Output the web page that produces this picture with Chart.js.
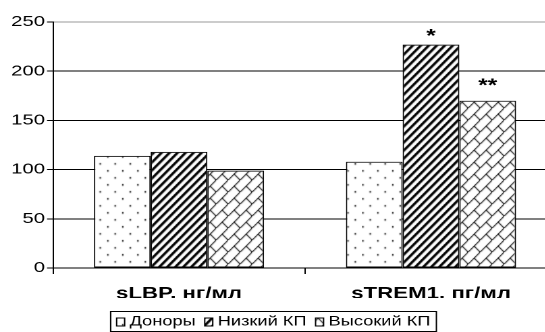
<!DOCTYPE html>
<html><head><meta charset="utf-8">
<script src="https://cdn.jsdelivr.net/npm/chart.js@4"></script>
<style>
html,body{margin:0;padding:0;background:#fff;overflow:hidden;width:545px;height:332px;}
#wrap{position:absolute;left:0;top:0;width:420px;height:332px;transform:scaleX(1.35);transform-origin:0 0;}
canvas{display:block;}
</style></head><body>
<div id="wrap"><canvas id="c" width="420" height="332"></canvas></div>
<script>
// ---- data ----
const categories = ['sLBP, нг/мл', 'sTREM1, пг/мл'];
const seriesNames = ['Доноры', 'Низкий КП', 'Высокий КП'];
const donors = [114, 108];
const lowKP = [118, 227];
const highKP = [99, 170];
const yMin = 0, yMax = 250, yStep = 50;
const markTexts = [['', ''], ['', '*'], ['', '**']];
const markLevels = [[null, null], [null, 240], [null, 190]];

// ---- layout helpers ----
const S = 1.35; // horizontal stretch of the reference
const FONT = '"Liberation Sans", Arial, sans-serif';
const canvas = document.getElementById('c');
const ctx = canvas.getContext('2d');

function makePattern(w, h, draw) {
  const c = document.createElement('canvas');
  c.width = w; c.height = h;
  const g = c.getContext('2d');
  g.fillStyle = '#fff'; g.fillRect(0, 0, w, h);
  draw(g);
  const p = ctx.createPattern(c, 'repeat');
  p.setTransform(new DOMMatrix().scale(1 / S, 1));
  return p;
}
const dotPattern = makePattern(15, 14, g => {
  g.fillStyle = '#222';
  g.fillRect(2, 2, 1.6, 1.6);
  g.fillRect(9.5, 9, 1.6, 1.6);
});
const stripePattern = makePattern(8, 8, g => {
  for (let x = 0; x < 8; x++) for (let y = 0; y < 8; y++) {
    const d = (x + y) % 8;
    if (d <= 2) { g.fillStyle = '#000'; g.fillRect(x, y, 1, 1); }
    else if (d === 3) { g.fillStyle = '#777'; g.fillRect(x, y, 1, 1); }
  }
});
const brickPattern = makePattern(12, 12, g => {
  g.fillStyle = '#111';
  for (let i = 0; i < 12; i++) g.fillRect(11 - i, i, 1.2, 1.2);
  for (let j = 6; j < 12; j++) g.fillRect(j, j, 1.2, 1.2);
});
const patterns = [dotPattern, stripePattern, brickPattern];
const seriesData = [donors, lowKP, highKP];

const marksPlugin = {
  id: 'marks',
  afterDatasetsDraw(chart) {
    const c = chart.ctx, ys = chart.scales.y;
    c.save();
    c.font = 'bold 18px ' + FONT;
    c.fillStyle = '#000';
    c.textAlign = 'center';
    c.textBaseline = 'alphabetic';
    markTexts.forEach((row, i) => {
      const meta = chart.getDatasetMeta(i);
      row.forEach((t, j) => {
        if (!t) return;
        const x = meta.data[j].x;
        const y = ys.getPixelForValue(markLevels[i][j]);
        c.fillText(t, x, y + 0.57 * 18);
      });
    });
    c.restore();
  }
};

const legendPlugin = {
  id: 'boxLegend',
  afterDraw(chart) {
    const c = chart.ctx;
    c.save();
    const fs = 13.5;
    c.font = fs + 'px ' + FONT;
    const symW = 8 / S, symH = 8, gap = 5 / S, spacing = 9 / S, pad = 6 / S;
    const widths = seriesNames.map(n => c.measureText(n).width);
    let total = pad * 2;
    widths.forEach((w, i) => { total += symW + gap + w + (i < widths.length - 1 ? spacing : 0); });
    const cx = 273.5 / S;
    const left = cx - total / 2;
    const top = 311.5, h = 20;
    c.strokeStyle = '#000'; c.lineWidth = 1;
    c.strokeRect(left, top, total, h);
    const midY = top + h / 2 + 0.5;
    let x = left + pad;
    seriesNames.forEach((n, i) => {
      c.fillStyle = patterns[i];
      c.fillRect(x, midY - symH / 2, symW, symH);
      c.lineWidth = 1;
      c.strokeStyle = '#000';
      c.strokeRect(x, midY - symH / 2, symW, symH);
      x += symW + gap;
      c.fillStyle = '#000';
      c.textBaseline = 'middle';
      c.textAlign = 'left';
      c.fillText(n, x, midY);
      x += widths[i] + spacing;
    });
    c.restore();
  }
};

new Chart(canvas, {
  type: 'bar',
  data: {
    labels: categories,
    datasets: seriesNames.map((n, i) => ({
      label: n,
      data: seriesData[i],
      backgroundColor: patterns[i],
      borderColor: '#000',
      borderWidth: 1,
      borderSkipped: false,
      categoryPercentage: 0.675,
      barPercentage: 1.0
    }))
  },
  options: {
    responsive: false,
    devicePixelRatio: 2,
    animation: false,
    layout: { padding: { left: 0, right: 420 - 557 / S, top: 22, bottom: 34 } },
    plugins: { legend: { display: false }, tooltip: { enabled: false } },
    scales: {
      x: {
        offset: true,
        afterFit(scale) { scale.height = 30; },
        grid: { offset: true, drawOnChartArea: false, drawTicks: true, tickLength: 6, color: '#000', tickColor: '#000' },
        border: { display: true, color: '#000', width: 1 },
        ticks: { color: '#000', padding: 10, font: { family: FONT, size: 16.5, weight: 'bold' } }
      },
      y: {
        min: yMin, max: yMax,
        afterFit(scale) { scale.width = 53 / S; },
        grid: {
          color: c => (c.tick && c.tick.value === yMax ? '#999' : '#000'),
          tickColor: '#000',
          tickLength: 6 / S,
          lineWidth: 1
        },
        border: { display: true, color: '#000', width: 1 },
        ticks: { stepSize: yStep, color: '#000', padding: 1.5, font: { family: FONT, size: 15 } }
      }
    }
  },
  plugins: [marksPlugin, legendPlugin]
});
</script>
</body></html>
